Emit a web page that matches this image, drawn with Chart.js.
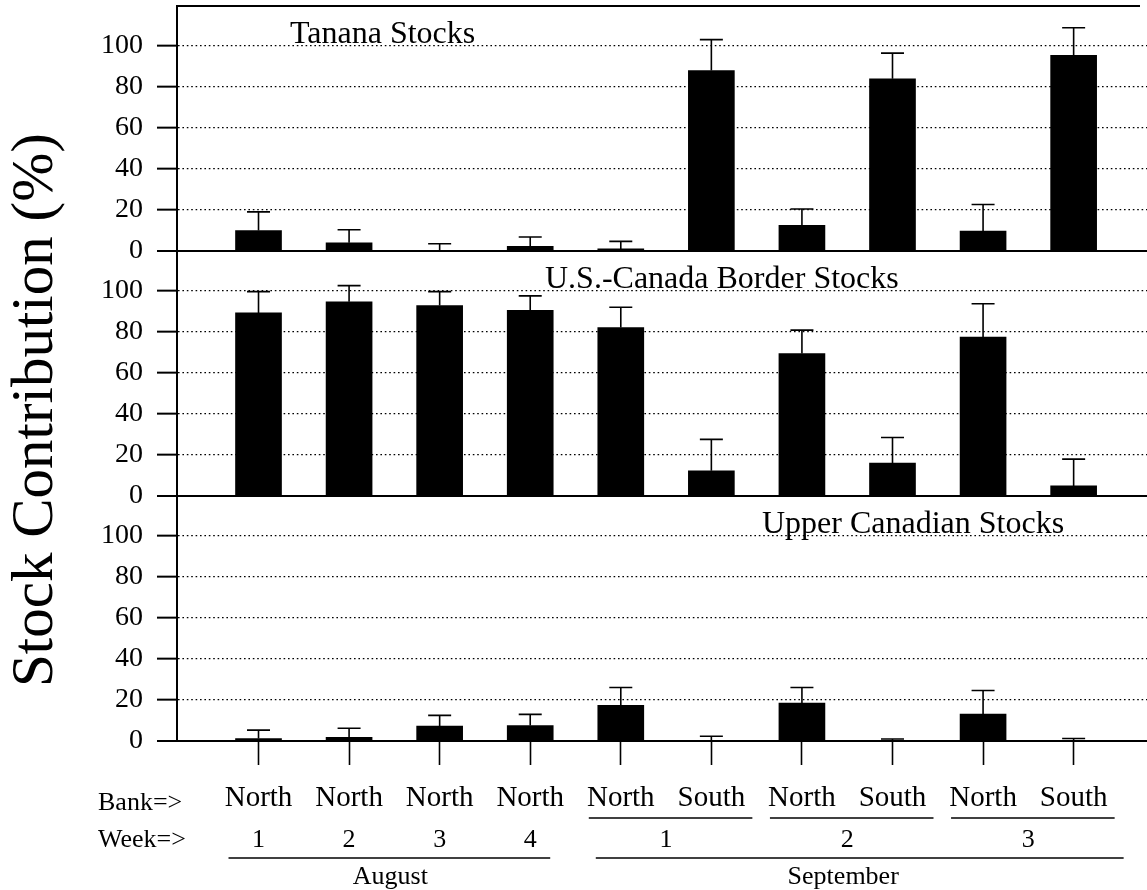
<!DOCTYPE html>
<html>
<head>
<meta charset="utf-8">
<title>Stock Contribution (%)</title>
<style>
  html, body { margin: 0; padding: 0; background: #ffffff; }
  #wrap { width: 1147px; height: 890px; position: relative; }
</style>
<script src="https://cdn.jsdelivr.net/npm/chart.js@4.4.1/dist/chart.umd.min.js"></script>
</head>
<body>
<div id="wrap"><canvas id="chart" width="1147" height="890"></canvas></div>
<script>
// ---- data ----
const BANKS = ['North', 'North', 'North', 'North', 'North', 'South', 'North', 'South', 'North', 'South'];

const WEEK_TEXT  = ['1', '2', '3', '4', '1', '2', '3'];
const WEEK_FIRST = [0, 1, 2, 3, 4, 6, 8];
const WEEK_LAST  = [0, 1, 2, 3, 5, 7, 9];

const MONTH_TEXT  = ['August', 'September'];
const MONTH_FIRST = [0, 4];
const MONTH_LAST  = [3, 9];

const PANEL_TITLES = ['Tanana Stocks', 'U.S.-Canada Border Stocks', 'Upper Canadian Stocks'];

const TANANA     = [10, 4, 0, 2.3, 1, 88, 12.5, 84, 9.7, 95.5];
const TANANA_ERR = [9.1, 6.4, 3.5, 4.5, 3.7, 15.1, 8.0, 12.5, 13.0, 13.4];

const BORDER     = [89.3, 94.7, 92.9, 90.6, 82.2, 12.3, 69.5, 16.0, 77.5, 4.9];
const BORDER_ERR = [10.4, 7.9, 6.8, 7.0, 9.9, 15.3, 11.4, 12.5, 16.3, 13.1];

const UPPER      = [1.2, 1.8, 7.3, 7.5, 17.4, 0, 18.5, 0, 13.1, 0];
const UPPER_ERR  = [4.1, 4.4, 5.2, 5.5, 8.7, 2.3, 7.6, 1.0, 11.5, 1.2];

const Y_TICKS = [0, 20, 40, 60, 80, 100];

// ---- styling ----
const SERIF = "'Liberation Serif', 'Times New Roman', 'DejaVu Serif', serif";
const INK = '#000000';

const points = (vals) => vals.map((v, i) => ({ x: i, y: v }));

function barSet(label, vals, errs, axis) {
  return {
    label: label,
    data: points(vals),
    errors: errs,
    yAxisID: axis,
    backgroundColor: INK,
    borderWidth: 0,
    barThickness: 46,
    grouped: false
  };
}

function panelAxis(weight) {
  return {
    type: 'linear',
    position: 'left',
    stack: 'panels',
    stackWeight: 1,
    weight: weight,
    min: 0,
    max: 119.5,
    afterBuildTicks: (s) => { s.ticks = Y_TICKS.map(v => ({ value: v })); },
    afterFit: (s) => { s.width = 177; s.paddingTop = 0; s.paddingBottom = 0; },
    ticks: {
      autoSkip: false,
      color: INK,
      padding: 14,
      font: { family: SERIF, size: 28 }
    },
    grid: {
      color: INK,
      lineWidth: (c) => (c.tick && c.tick.value === 0) ? 2 : 1.3,
      tickLength: 20,
      tickColor: INK,
      tickWidth: 2
    },
    border: {
      display: true,
      color: INK,
      width: 2,
      dash: (c) => (c.tick && c.tick.value !== 0) ? [1.6, 2.8] : []
    }
  };
}

// error whiskers, panel names and the grouped bank / week / month captions
const annotate = {
  id: 'annotate',
  afterDatasetsDraw(chart) {
    const ctx = chart.ctx;
    const xs = chart.scales.x;
    const area = chart.chartArea;

    ctx.save();
    ctx.strokeStyle = INK;
    ctx.lineWidth = 1.6;
    chart.data.datasets.forEach((ds) => {
      const ys = chart.scales[ds.yAxisID];
      ds.data.forEach((p, i) => {
        const e = ds.errors[i];
        const px = xs.getPixelForValue(p.x);
        const y0 = ys.getPixelForValue(p.y);
        const y1 = ys.getPixelForValue(p.y + e);
        ctx.beginPath();
        ctx.moveTo(px, y0);
        ctx.lineTo(px, y1);
        ctx.moveTo(px - 11.5, y1);
        ctx.lineTo(px + 11.5, y1);
        ctx.stroke();
      });
    });

    // frame line along the top of the plot
    ctx.lineWidth = 2;
    ctx.beginPath();
    ctx.moveTo(area.left, area.top);
    ctx.lineTo(1140, area.top);
    ctx.stroke();

    // panel names
    ctx.fillStyle = INK;
    ctx.textBaseline = 'alphabetic';
    ctx.textAlign = 'left';
    ctx.font = '32px ' + SERIF;
    const titleX = [290, 545, 762];
    ['yTop', 'yMid', 'yBot'].forEach((id, k) => {
      const s = chart.scales[id];
      ctx.fillText(PANEL_TITLES[k], titleX[k], s.top + 37);
    });

    // row captions under the axis
    ctx.font = '26px ' + SERIF;
    ctx.fillText('Bank=>', 98, 810);
    ctx.fillText('Week=>', 98, 847);

    ctx.textAlign = 'center';
    ctx.lineWidth = 1.3;
    WEEK_TEXT.forEach((t, k) => {
      const a = xs.getPixelForValue(WEEK_FIRST[k]);
      const b = xs.getPixelForValue(WEEK_LAST[k]);
      ctx.fillText(t, (a + b) / 2, 847);
      if (WEEK_LAST[k] > WEEK_FIRST[k]) {
        ctx.beginPath();
        ctx.moveTo(a - 32, 818);
        ctx.lineTo(b + 41, 818);
        ctx.stroke();
      }
    });

    const monthPad = [[-30, 20], [-25, 50]];
    MONTH_TEXT.forEach((t, k) => {
      const a = xs.getPixelForValue(MONTH_FIRST[k]);
      const b = xs.getPixelForValue(MONTH_LAST[k]);
      ctx.fillText(t, (a + b) / 2 - 4, 884);
      ctx.beginPath();
      ctx.moveTo(a + monthPad[k][0], 858);
      ctx.lineTo(b + monthPad[k][1], 858);
      ctx.stroke();
    });

    // vertical axis title
    ctx.save();
    ctx.translate(52, 410);
    ctx.rotate(-Math.PI / 2);
    ctx.font = '59px ' + SERIF;
    ctx.textAlign = 'center';
    ctx.fillText('Stock Contribution (%)', 0, 0);
    ctx.restore();

    ctx.restore();
  }
};

new Chart(document.getElementById('chart'), {
  type: 'bar',
  data: {
    datasets: [
      barSet(PANEL_TITLES[0], TANANA, TANANA_ERR, 'yTop'),
      barSet(PANEL_TITLES[1], BORDER, BORDER_ERR, 'yMid'),
      barSet(PANEL_TITLES[2], UPPER, UPPER_ERR, 'yBot')
    ]
  },
  options: {
    responsive: false,
    devicePixelRatio: 1,
    animation: false,
    layout: { padding: { top: 6, right: 0, bottom: 0, left: 0 } },
    plugins: {
      legend: { display: false },
      tooltip: { enabled: false },
      title: { display: false }
    },
    scales: {
      x: {
        type: 'linear',
        offset: false,
        min: -0.9,
        max: 9.81,
        afterBuildTicks: (s) => { s.ticks = BANKS.map((_, i) => ({ value: i })); },
        afterFit: (s) => { s.height = 149; s.paddingLeft = 0; s.paddingRight = 0; },
        ticks: {
          autoSkip: false,
          maxRotation: 0,
          color: INK,
          padding: 16,
          font: { family: SERIF, size: 29 },
          callback: (v) => BANKS[v] !== undefined ? BANKS[v] : ''
        },
        grid: {
          offset: false,
          drawOnChartArea: false,
          tickLength: 24,
          tickWidth: 1.6,
          tickColor: INK
        },
        border: { display: true, color: INK, width: 2 }
      },
      yTop: panelAxis(3),
      yMid: panelAxis(2),
      yBot: panelAxis(1)
    }
  },
  plugins: [annotate]
});
</script>
</body>
</html>
